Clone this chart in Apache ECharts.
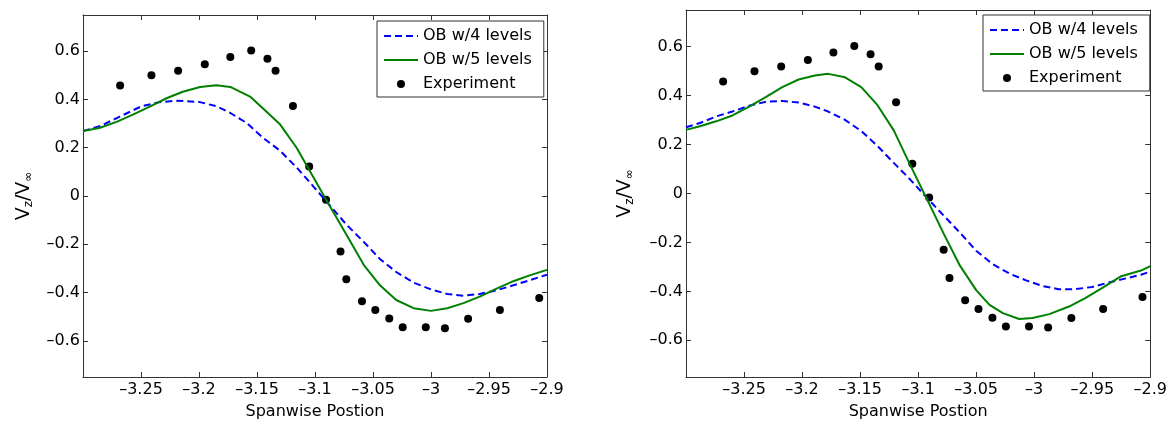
<!DOCTYPE html>
<html>
<head>
<meta charset="utf-8">
<script src="https://cdn.jsdelivr.net/npm/echarts@6/dist/echarts.min.js"></script>
<style>
html,body{margin:0;padding:0;background:#fff;}
#chart{width:1170px;height:425px;}
</style>
</head>
<body>
<div id="chart"></div>
<script>
// ---- data ----
const xTicks = [-3.25, -3.2, -3.15, -3.1, -3.05, -3, -2.95, -2.9];
const yTicks = [-0.6, -0.4, -0.2, 0, 0.2, 0.4, 0.6];
const seriesNames = ['OB w/4 levels', 'OB w/5 levels', 'Experiment'];

const expX = [-3.268, -3.241, -3.218, -3.195, -3.173, -3.155, -3.141, -3.134, -3.119, -3.105, -3.0905, -3.078, -3.073, -3.0595, -3.048, -3.036, -3.0244, -3.0045, -2.988, -2.968, -2.9406, -2.9067];
const expY = [0.458, 0.50, 0.519, 0.546, 0.576, 0.603, 0.569, 0.519, 0.373, 0.122, -0.016, -0.230, -0.345, -0.436, -0.472, -0.508, -0.544, -0.544, -0.548, -0.509, -0.472, -0.423];

const leftOb4X = [-3.3, -3.285, -3.27, -3.25, -3.235, -3.22, -3.2, -3.185, -3.173, -3.159, -3.145, -3.13, -3.116, -3.1015, -3.087, -3.073, -3.058, -3.044, -3.03, -3.015, -3.0, -2.986, -2.972, -2.958, -2.943, -2.929, -2.915, -2.9];
const leftOb4Y = [0.269, 0.29, 0.325, 0.371, 0.388, 0.395, 0.39, 0.372, 0.344, 0.303, 0.242, 0.187, 0.119, 0.04, -0.04, -0.118, -0.19, -0.261, -0.315, -0.359, -0.387, -0.406, -0.413, -0.406, -0.39, -0.37, -0.349, -0.326];

const leftOb5X = [-3.3, -3.286, -3.271, -3.257, -3.242, -3.228, -3.214, -3.199, -3.185, -3.173, -3.156, -3.145, -3.13, -3.116, -3.1015, -3.087, -3.073, -3.058, -3.044, -3.03, -3.015, -3.0, -2.986, -2.972, -2.958, -2.943, -2.929, -2.915, -2.9];
const leftOb5Y = [0.269, 0.282, 0.307, 0.337, 0.371, 0.405, 0.432, 0.452, 0.459, 0.452, 0.412, 0.364, 0.296, 0.201, 0.079, -0.044, -0.16, -0.285, -0.37, -0.431, -0.465, -0.476, -0.465, -0.444, -0.417, -0.383, -0.353, -0.329, -0.306];

const rightOb4X = [-3.3, -3.288, -3.274, -3.26, -3.2455, -3.231, -3.217, -3.203, -3.189, -3.1775, -3.163, -3.149, -3.135, -3.121, -3.107, -3.092, -3.078, -3.064, -3.05, -3.036, -3.021, -3.007, -2.993, -2.979, -2.965, -2.95, -2.936, -2.922, -2.908, -2.9];
const rightOb4Y = [0.271, 0.288, 0.315, 0.335, 0.359, 0.375, 0.378, 0.372, 0.355, 0.335, 0.301, 0.255, 0.194, 0.125, 0.058, -0.02, -0.09, -0.16, -0.234, -0.288, -0.328, -0.355, -0.378, -0.391, -0.391, -0.382, -0.364, -0.348, -0.332, -0.319];

const rightOb5X = [-3.3, -3.288, -3.274, -3.26, -3.2455, -3.231, -3.217, -3.203, -3.189, -3.1775, -3.163, -3.149, -3.135, -3.121, -3.107, -3.092, -3.078, -3.064, -3.05, -3.0385, -3.027, -3.013, -3.0015, -2.987, -2.97, -2.956, -2.942, -2.925, -2.908, -2.9];
const rightOb5Y = [0.26, 0.275, 0.295, 0.319, 0.355, 0.395, 0.435, 0.466, 0.482, 0.489, 0.475, 0.435, 0.361, 0.258, 0.118, -0.027, -0.164, -0.295, -0.395, -0.455, -0.489, -0.513, -0.509, -0.493, -0.462, -0.428, -0.388, -0.338, -0.315, -0.297];

// ---- chart ----
const zip = (xs, ys) => xs.map((x, i) => [x, ys[i]]);
const FONT = 'DejaVu Sans';
const AX = '#333';
const fmt = v => String(Math.round(v * 100) / 100).replace('-', '\u2013');

function xAxes(gi) {
  const common = {
    gridIndex: gi, type: 'value', min: -3.3, max: -2.9,
    axisLine: { show: true, onZero: false, lineStyle: { color: AX, width: 1 } },
    splitLine: { show: false }
  };
  return [
    Object.assign({}, common, {
      position: 'bottom',
      axisTick: { show: true, inside: true, length: 5, customValues: xTicks, lineStyle: { color: AX } },
      axisLabel: { show: true, customValues: xTicks, formatter: fmt, margin: 5, color: '#000', fontFamily: FONT, fontSize: 16 },
      name: 'Spanwise Postion', nameLocation: 'middle', nameGap: 27,
      nameTextStyle: { color: '#000', fontFamily: FONT, fontSize: 16 }
    }),
    Object.assign({}, common, {
      position: 'top',
      axisTick: { show: true, inside: true, length: 5, customValues: xTicks, lineStyle: { color: AX } },
      axisLabel: { show: false, customValues: xTicks }
    })
  ];
}
function yAxes(gi, gap) {
  const common = {
    gridIndex: gi, type: 'value', min: -0.75, max: 0.75,
    axisLine: { show: true, onZero: false, lineStyle: { color: AX, width: 1 } },
    splitLine: { show: false }
  };
  return [
    Object.assign({}, common, {
      position: 'left',
      axisTick: { show: true, inside: true, length: 5, customValues: yTicks, lineStyle: { color: AX } },
      axisLabel: { show: true, customValues: yTicks, formatter: fmt, margin: 3, color: '#000', fontFamily: FONT, fontSize: 16 },
      name: 'V{s|z}/V{s|\u221E}', nameLocation: 'middle', nameGap: gap, nameRotate: 90,
      nameTextStyle: {
        color: '#000', fontFamily: FONT, fontSize: 19,
        rich: { s: { fontFamily: FONT, fontSize: 12, color: '#000', verticalAlign: 'bottom', padding: [10, 0, 0, 0] } }
      }
    }),
    Object.assign({}, common, {
      position: 'right',
      axisTick: { show: true, inside: true, length: 5, customValues: yTicks, lineStyle: { color: AX } },
      axisLabel: { show: false, customValues: yTicks }
    })
  ];
}
function legend(left, top) {
  return {
    orient: 'vertical', left: left, top: top,
    padding: [7, 12, 5, 6], itemGap: 8, itemWidth: 34, itemHeight: 8,
    borderColor: AX, borderWidth: 1, backgroundColor: '#fff',
    textStyle: { fontFamily: FONT, fontSize: 16, color: '#000' },
    data: [
      { name: seriesNames[0], itemStyle: { opacity: 0 } },
      { name: seriesNames[1], itemStyle: { opacity: 0 } },
      { name: seriesNames[2] }
    ]
  };
}
function seriesFor(xi, yi, ob4, ob5) {
  return [
    { name: seriesNames[0], type: 'line', xAxisIndex: xi, yAxisIndex: yi, data: ob4, symbol: 'none',
      lineStyle: { color: '#0000ff', width: 2, type: [7, 4] }, itemStyle: { color: '#0000ff' } },
    { name: seriesNames[1], type: 'line', xAxisIndex: xi, yAxisIndex: yi, data: ob5, symbol: 'none',
      lineStyle: { color: '#008000', width: 2 }, itemStyle: { color: '#008000' } },
    { name: seriesNames[2], type: 'scatter', xAxisIndex: xi, yAxisIndex: yi, data: zip(expX, expY),
      symbol: 'circle', symbolSize: 8, itemStyle: { color: '#000', opacity: 1 } }
  ];
}

const chart = echarts.init(document.getElementById('chart'), null, { renderer: 'canvas' });
chart.setOption({
  animation: false,
  backgroundColor: '#fff',
  grid: [
    { left: 83, top: 15, width: 464, height: 368 },
    { left: 686, top: 10, width: 470, height: 373 }
  ],
  xAxis: xAxes(0).concat(xAxes(1)),
  yAxis: yAxes(0, 48).concat(yAxes(1, 50)),
  legend: [legend(377, 21), legend(983, 15)],
  series: seriesFor(0, 0, zip(leftOb4X, leftOb4Y), zip(leftOb5X, leftOb5Y))
    .concat(seriesFor(2, 2, zip(rightOb4X, rightOb4Y), zip(rightOb5X, rightOb5Y)))
});
</script>
</body>
</html>
